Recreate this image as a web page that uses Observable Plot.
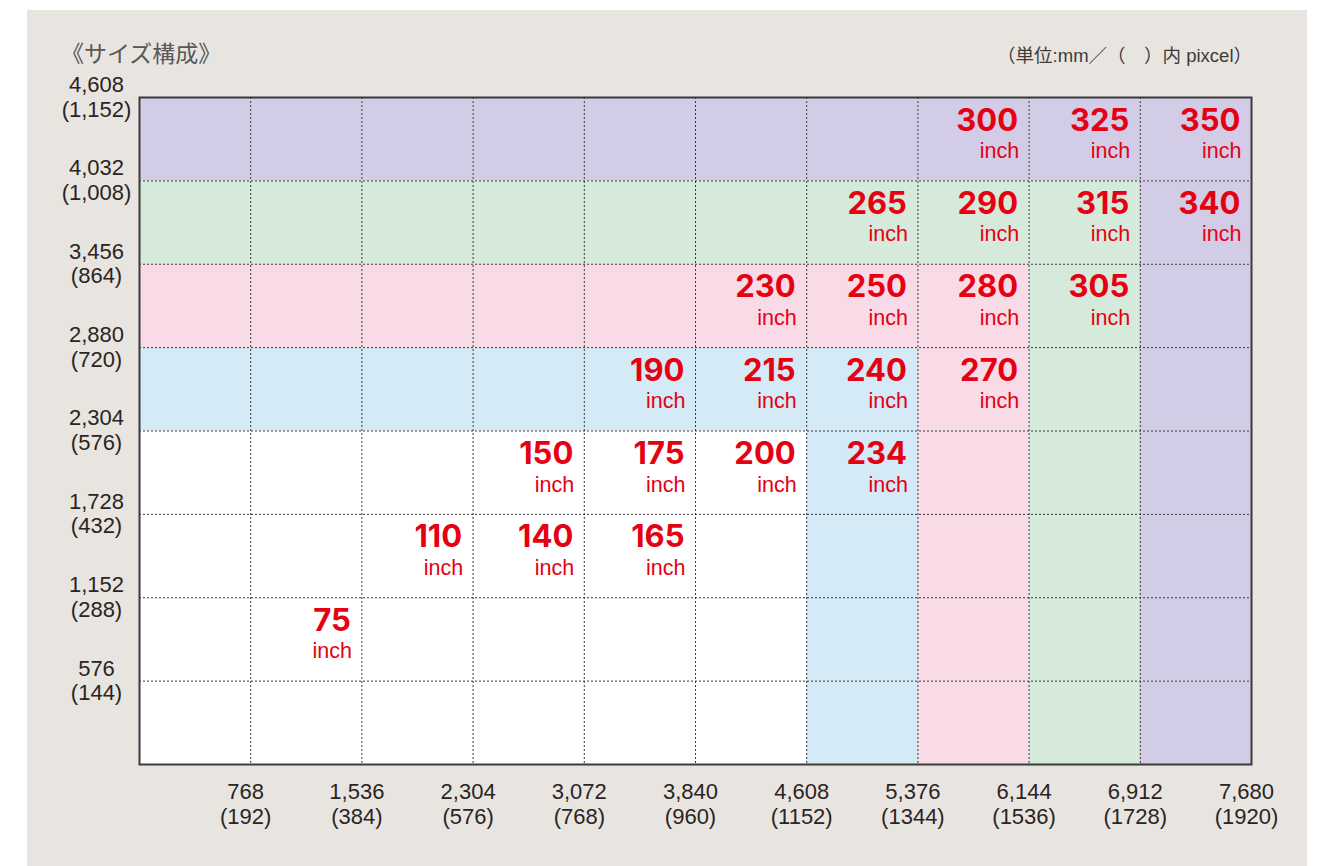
<!DOCTYPE html>
<html>
<head>
<meta charset="utf-8">
<script src="https://cdn.jsdelivr.net/npm/d3@7"></script>
<script src="https://cdn.jsdelivr.net/npm/@observablehq/plot@0.6"></script>
<style>
  html, body { margin: 0; padding: 0; background: #ffffff; }
  #panel {
    position: absolute; left: 27px; top: 10px; width: 1280px; height: 856px;
    background: #e8e5e1; overflow: hidden;
    font-family: "Liberation Sans", "Noto Sans CJK JP", sans-serif;
  }
  #header { position: relative; height: 60px; }
  #title {
    position: absolute; left: 34px; top: 33px; font-size: 23px; line-height: 23px;
    color: #595757; white-space: nowrap;
  }
  #unit {
    position: absolute; right: 55px; top: 37px; font-size: 18.5px; line-height: 18.5px;
    color: #3e3a39; white-space: nowrap;
  }
  #chart svg { display: block; }
</style>
</head>
<body>
<div id="panel">
  <div id="header">
    <div id="title">《サイズ構成》</div>
    <div id="unit">（単位:mm／（　）内 pixcel）</div>
  </div>
  <div id="chart"></div>
</div>
<script>
// Axis tick values (mm) and their pixel counterparts
const xTicks = [768, 1536, 2304, 3072, 3840, 4608, 5376, 6144, 6912, 7680];
const xPixels = ["192", "384", "576", "768", "960", "1152", "1344", "1536", "1728", "1920"];
const yTicks = [576, 1152, 1728, 2304, 2880, 3456, 4032, 4608];
const yPixels = ["144", "288", "432", "576", "720", "864", "1,008", "1,152"];

// Colour band of each cell, rows listed from top to bottom, columns left to right
const bandGrid = [
  "PPPPPPPPPP",
  "GGGGGGGGGP",
  "KKKKKKKKGP",
  "BBBBBBBKGP",
  "WWWWWWBKGP",
  "WWWWWWBKGP",
  "WWWWWWBKGP",
  "WWWWWWBKGP"
];
const bandColors = { P: "#d2cce6", G: "#d5eadb", K: "#f8dbe7", B: "#d4eaf7", W: "#ffffff" };

// Screen sizes (inch) and the cell (column, row from bottom) they sit in
const sizeValues = [75, 110, 140, 165, 150, 175, 200, 234, 190, 215, 240, 270, 230, 250, 280, 305, 265, 290, 315, 340, 300, 325, 350];
const sizeCol    = [2,  3,   4,   5,   4,   5,   6,   7,   5,   6,   7,   8,   6,   7,   8,   9,   7,   8,   9,   10,  8,   9,   10];
const sizeRow    = [2,  3,   3,   3,   4,   4,   4,   4,   5,   5,   5,   5,   6,   6,   6,   6,   7,   7,   7,   7,   8,   8,   8];
const sizeUnit = "inch";

const fmt = d3.format(",");

const cells = [];
bandGrid.forEach((rowStr, r) => {
  const j = bandGrid.length - 1 - r;
  rowStr.split("").forEach((band, c) => {
    cells.push({
      x1: c === 0 ? 0 : xTicks[c - 1], x2: xTicks[c],
      y1: j === 0 ? 0 : yTicks[j - 1], y2: yTicks[j],
      fill: bandColors[band]
    });
  });
});

const sizes = sizeValues.map((v, i) => ({ value: v, x: xTicks[sizeCol[i] - 1], y: yTicks[sizeRow[i] - 1] }));

const ink = "#2b2422";
const red = "#e50012";

const chart = Plot.plot({
  width: 1280,
  height: 796,
  marginLeft: 112,
  marginRight: 56,
  marginTop: 27,
  marginBottom: 102,
  x: { domain: [0, 7680], axis: null },
  y: { domain: [0, 4608], axis: null },
  color: { type: "identity" },
  style: { background: "transparent", fontFamily: "Liberation Sans, Noto Sans CJK JP, sans-serif", overflow: "visible" },
  marks: [
    Plot.rect(cells, { x1: "x1", x2: "x2", y1: "y1", y2: "y2", fill: "fill" }),
    Plot.ruleX(xTicks.slice(0, -1), { stroke: "#3a3a3a", strokeWidth: 1, strokeDasharray: "2,2" }),
    Plot.ruleY(yTicks.slice(0, -1), { stroke: "#3a3a3a", strokeWidth: 1, strokeDasharray: "2,2" }),
    Plot.frame({ stroke: "#3a3a3a", strokeWidth: 2 }),
    Plot.text(xTicks, {
      x: d => d, frameAnchor: "bottom",
      text: (d, i) => `${fmt(d)}\n(${xPixels[i]})`,
      lineAnchor: "bottom", lineHeight: 1.12, dy: 59, dx: -5,
      fontSize: 22, fill: ink, textAnchor: "middle"
    }),
    Plot.text(yTicks, {
      y: d => d, frameAnchor: "left",
      text: (d, i) => `${fmt(d)}\n(${yPixels[i]})`,
      lineAnchor: "bottom", lineHeight: 1.12, dy: 19, dx: -43,
      fontSize: 22, fill: ink, textAnchor: "middle"
    }),
    Plot.text(sizes, {
      x: "x", y: "y", text: d => String(d.value),
      textAnchor: "end", lineAnchor: "bottom", dx: -11, dy: 33,
      fontSize: 31, fontWeight: 700, fontFamily: "Inter, Liberation Sans, sans-serif", fill: red
    }),
    Plot.text(sizes, {
      x: "x", y: "y", text: () => sizeUnit,
      textAnchor: "end", lineAnchor: "bottom", dx: -10, dy: 60.5,
      fontSize: 21.5, fill: red
    })
  ]
});
document.getElementById("chart").appendChild(chart);
</script>
</body>
</html>
